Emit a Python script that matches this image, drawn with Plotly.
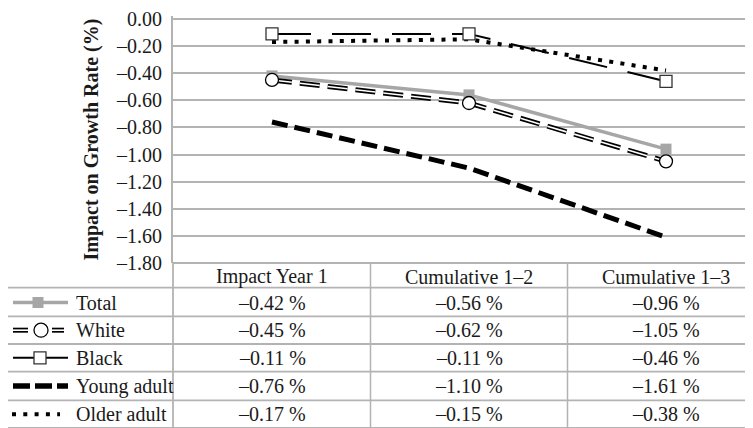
import plotly.graph_objects as go

# ---- data ----
categories = ["Impact Year 1", "Cumulative 1\u20132", "Cumulative 1\u20133"]
series_names = ["Total", "White", "Black", "Young adult", "Older adult"]
total = [-0.42, -0.56, -0.96]
white = [-0.45, -0.62, -1.05]
black = [-0.11, -0.11, -0.46]
young_adult = [-0.76, -1.10, -1.61]
older_adult = [-0.17, -0.15, -0.38]
y_tick_vals = [0.0, -0.2, -0.4, -0.6, -0.8, -1.0, -1.2, -1.4, -1.6, -1.8]
y_tick_text = ["0.00", "\u20130.20", "\u20130.40", "\u20130.60", "\u20130.80",
               "\u20131.00", "\u20131.20", "\u20131.40", "\u20131.60", "\u20131.80"]
y_title = "Impact on Growth Rate (%)"

# ---- layout geometry (screen pixels; page body has an 8px margin) ----
OFF = 8
W, H = 753, 428
PAD = 3  # small headroom so the 0.00 grid line / label are not clipped
PL, PR, PT, PB = 173 - OFF, W, 16 - OFF - PAD, 263 - OFF   # plot area in figure coords
pw, ph = PR - PL, PB - PT
xs = list(range(len(categories)))
CAT0, CATW = 272 - OFF, 197
x_lo = (PL - CAT0) / CATW
x_hi = (PR - CAT0) / CATW
Y_BOT = -1.8
Y_TOP = PAD * 1.8 / (263 - 16)


def px(xs_):
    return (xs_ - OFF - PL) / pw


def py(ys_):
    return (PB - (ys_ - OFF)) / ph


FONT = "Liberation Serif, Times New Roman, serif"
FS = 20
TXT = "#1a1a1a"
GRID = "#b3b3b3"
GRAY = "#a6a6a6"

fig = go.Figure()

fig.add_trace(go.Scatter(x=xs, y=total, mode="lines+markers", name="Total",
                         line=dict(color=GRAY, width=3.5),
                         marker=dict(symbol="square", size=11, color=GRAY)))
# white: double line effect
fig.add_trace(go.Scatter(x=xs, y=white, mode="lines", showlegend=False,
                         line=dict(color="black", width=5, dash="20px,8px")))
fig.add_trace(go.Scatter(x=xs, y=white, mode="lines+markers", name="White",
                         line=dict(color="white", width=1.6, dash="20px,8px"),
                         marker=dict(symbol="circle", size=13, color="white",
                                     line=dict(color="black", width=1.3))))
fig.add_trace(go.Scatter(x=xs, y=young_adult, mode="lines", name="Young adult",
                         line=dict(color="black", width=5, dash="16px,7px")))
fig.add_trace(go.Scatter(x=xs, y=older_adult, mode="lines", name="Older adult",
                         line=dict(color="black", width=4, dash="4px,7.3px")))
fig.add_trace(go.Scatter(x=xs, y=black, mode="lines+markers", name="Black",
                         line=dict(color="black", width=2, dash="39px,21px"),
                         marker=dict(symbol="square", size=12, color="white",
                                     line=dict(color="#333333", width=1.3))))

shapes = []
annotations = []

# top grid line at 0.00 (drawn below the traces)
shapes.append(dict(type="line", xref="paper", yref="y", layer="below",
                   x0=0, x1=1, y0=y_tick_vals[0], y1=y_tick_vals[0],
                   line=dict(color=GRID, width=1.8)))

# table horizontal lines
row_lines = [263, 288, 317, 345, 373, 402, 430]
for i, yl in enumerate(row_lines):
    x0 = px(173) if i == 0 else px(6)
    shapes.append(dict(type="line", xref="paper", yref="paper",
                       x0=x0, x1=1.05, y0=py(yl), y1=py(yl),
                       line=dict(color=GRID, width=1.8)))
# vertical dividers
for xv in [0.5, 1.5]:
    shapes.append(dict(type="line", xref="x", yref="paper",
                       x0=xv, x1=xv, y0=py(263), y1=py(445),
                       line=dict(color=GRID, width=1.5)))
shapes.append(dict(type="line", xref="paper", yref="paper",
                   x0=px(173), x1=px(173), y0=py(263), y1=py(445),
                   line=dict(color=GRID, width=1.8)))
shapes.append(dict(type="line", xref="paper", yref="paper",
                   x0=px(6), x1=px(6), y0=py(288), y1=py(445),
                   line=dict(color=GRID, width=1.5)))

# header
for i, c in enumerate(categories):
    annotations.append(dict(x=i, y=py(277), xref="x", yref="paper", text=c,
                            xanchor="center", yanchor="middle",
                            showarrow=False, font=dict(family=FONT, size=FS, color=TXT)))

row_centers = [303, 331, 359, 387.5, 416]
values = [total, white, black, young_adult, older_adult]
for r, (name, vals) in enumerate(zip(series_names, values)):
    yc = py(row_centers[r])
    annotations.append(dict(x=px(74), y=yc, xref="paper", yref="paper", text=name,
                            xanchor="left", yanchor="middle", showarrow=False,
                            font=dict(family=FONT, size=FS, color=TXT)))
    for i, v in enumerate(vals):
        annotations.append(dict(x=i, y=yc, xref="x", yref="paper",
                                text="\u2013%.2f %%" % abs(v), showarrow=False,
                                xanchor="center", yanchor="middle",
                                font=dict(family=FONT, size=FS, color=TXT)))


# legend symbols
def seg(x0, x1, yc, color, width, dash="solid"):
    shapes.append(dict(type="line", xref="paper", yref="paper",
                       x0=px(x0), x1=px(x1), y0=py(yc), y1=py(yc),
                       line=dict(color=color, width=width, dash=dash)))


def marker(shape, xc, yc, size, fill, lc, lw):
    h = size / 2
    shapes.append(dict(type=shape, xref="paper", yref="paper",
                       xsizemode="pixel", ysizemode="pixel",
                       xanchor=px(xc), yanchor=py(yc),
                       x0=-h, x1=h, y0=-h, y1=h,
                       fillcolor=fill, line=dict(color=lc, width=lw)))


yc = row_centers[0]
seg(13, 68, yc, GRAY, 3.5)
marker("rect", 38, yc, 11, GRAY, GRAY, 0)
yc = row_centers[1]
for a, b in [(13, 28), (52, 64)]:
    seg(a, b, yc, "black", 5)
    seg(a - 1, b + 1, yc, "white", 1.6)
marker("circle", 41, yc, 14, "white", "black", 1.3)
yc = row_centers[2]
seg(13, 68, yc, "black", 2)
marker("rect", 40, yc, 12, "white", "#333333", 1.3)
yc = row_centers[3]
seg(13, 68, yc, "black", 5.5, "17px,5px")
yc = row_centers[4]
seg(12, 60, yc, "black", 4, "4px,7.3px")

# y-axis title
annotations.append(dict(x=px(91), y=py(138), xref="paper", yref="paper",
                        xanchor="center", yanchor="middle",
                        text="<b>%s</b>" % y_title, textangle=-90, showarrow=False,
                        font=dict(family=FONT, size=FS, color=TXT)))

fig.update_layout(
    width=W, height=H,
    margin=dict(l=PL, r=W - PR, t=PT, b=H - PB),
    paper_bgcolor="white", plot_bgcolor="white",
    showlegend=False,
    shapes=shapes, annotations=annotations,
    xaxis=dict(range=[x_lo, x_hi], showgrid=False, zeroline=False,
               showticklabels=False, showline=False),
    yaxis=dict(range=[Y_BOT, Y_TOP], tickvals=y_tick_vals, ticktext=y_tick_text,
               showgrid=True, gridcolor=GRID, gridwidth=1.8, zeroline=False,
               showline=True, linecolor=GRID, linewidth=2,
               ticks="", ticklabelstandoff=5, ticklabeloverflow="allow",
               tickfont=dict(family=FONT, size=FS, color=TXT)),
)

fig.write_html("out.html")
